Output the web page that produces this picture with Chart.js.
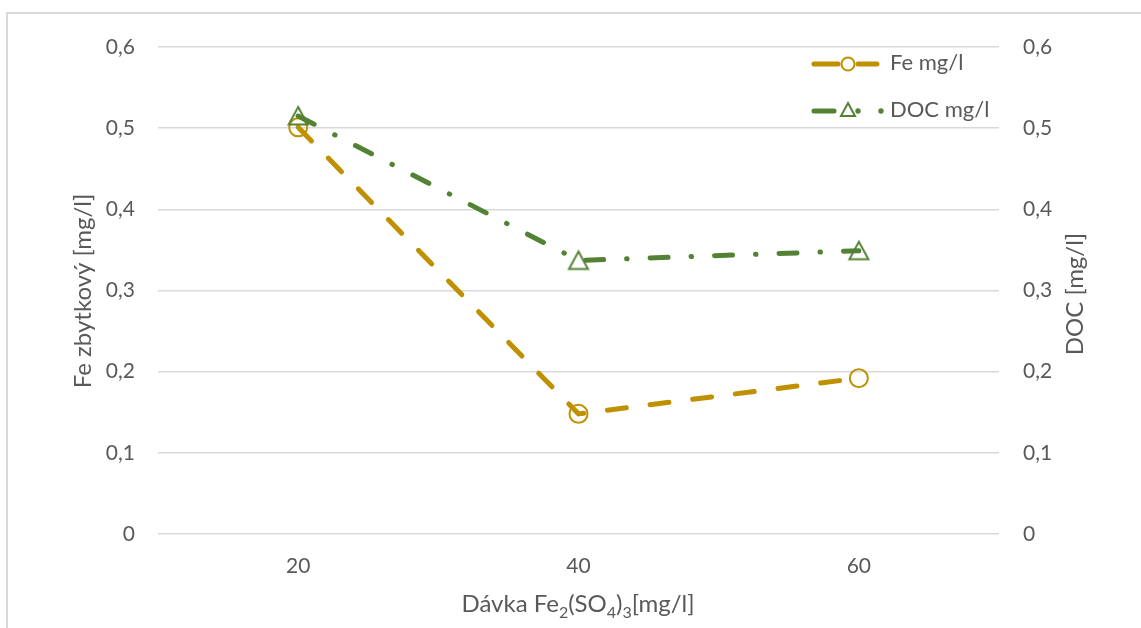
<!DOCTYPE html>
<html lang="cs">
<head>
  <meta charset="UTF-8" />
  <title>Fe a DOC podle dávky</title>
  <script src="https://cdn.jsdelivr.net/npm/chart.js"></script>
  <style>
    body {
      margin: 0;
      background: #ffffff;
      overflow: hidden;
    }
    .ramecek {
      position: absolute;
      left: 6px;
      top: 12px;
      width: 1300px;
      height: 800px;
      border: 2px solid #d9d9d9;
    }
    #graf {
      position: absolute;
      left: 0;
      top: 0;
    }
  </style>
</head>
<body>
  <div class="ramecek"></div>
  <canvas id="graf" width="1141" height="628"></canvas>

  <script>
    // data
    const davky = ['20', '40', '60'];
    const feHodnoty = [0.501, 0.148, 0.192];
    const docHodnoty = [0.515, 0.337, 0.349];
    const osaMin = 0;
    const osaMax = 0.6;
    const osaKrok = 0.1;

    const FE_BARVA = '#bf9000';
    const DOC_BARVA = '#548235';
    const TEXT_BARVA = '#595959';
    const PISMO = 'Lato, "Open Sans", sans-serif';

    const formatCarka = v => (v === 0 ? '0' : v.toFixed(1).replace('.', ','));

    // trojúhelník vystředěný na střed svého obdélníku (jako v Excelu)
    function trojuhelnik(barva) {
      const c = document.createElement('canvas');
      c.width = 24;
      c.height = 24;
      const g = c.getContext('2d');
      g.strokeStyle = barva;
      g.lineWidth = 2;
      g.lineJoin = 'miter';
      g.beginPath();
      g.moveTo(12, 3);
      g.lineTo(21.5, 20.5);
      g.lineTo(2.5, 20.5);
      g.closePath();
      g.stroke();
      return c;
    }

    // popisky os a legenda kreslené ručně (dolní indexy, otočený text vpravo)
    const popisky = {
      id: 'popisky',
      afterDraw(chart) {
        const ctx = chart.ctx;
        ctx.save();
        ctx.fillStyle = TEXT_BARVA;

        // levá osa
        ctx.font = '24px ' + PISMO;
        ctx.textAlign = 'center';
        ctx.textBaseline = 'middle';
        ctx.save();
        ctx.translate(83, 291);
        ctx.rotate(-Math.PI / 2);
        ctx.fillText('Fe zbytkový [mg/l]', 0, 0);
        ctx.restore();

        // pravá osa
        ctx.save();
        ctx.translate(1075, 294);
        ctx.rotate(-Math.PI / 2);
        ctx.fillText('DOC [mg/l]', 0, 0);
        ctx.restore();

        // osa x s dolními indexy
        const casti = [
          ['Dávka Fe', false], ['2', true], ['(SO', false], ['4', true],
          [')', false], ['3', true], ['[mg/l]', false]
        ];
        const velke = '24px ' + PISMO;
        const male = '16px ' + PISMO;
        let sirka = 0;
        casti.forEach(([t, sub]) => {
          ctx.font = sub ? male : velke;
          sirka += ctx.measureText(t).width;
        });
        let x = 578 - sirka / 2;
        ctx.textAlign = 'left';
        ctx.textBaseline = 'alphabetic';
        casti.forEach(([t, sub]) => {
          ctx.font = sub ? male : velke;
          ctx.fillText(t, x, sub ? 618 : 612);
          x += ctx.measureText(t).width;
        });

        // legenda
        ctx.lineCap = 'round';
        ctx.lineWidth = 5;
        ctx.strokeStyle = FE_BARVA;
        ctx.beginPath();
        ctx.moveTo(814, 64); ctx.lineTo(838, 64);
        ctx.moveTo(858, 64); ctx.lineTo(877, 64);
        ctx.stroke();
        ctx.lineWidth = 2;
        ctx.fillStyle = '#ffffff';
        ctx.beginPath();
        ctx.arc(848, 64, 6.5, 0, Math.PI * 2);
        ctx.fill();
        ctx.stroke();

        ctx.strokeStyle = DOC_BARVA;
        ctx.fillStyle = DOC_BARVA;
        ctx.lineWidth = 5;
        ctx.beginPath();
        ctx.moveTo(814, 111); ctx.lineTo(834, 111);
        ctx.stroke();
        ctx.lineWidth = 2;
        ctx.beginPath();
        ctx.moveTo(848, 103); ctx.lineTo(855, 116); ctx.lineTo(841, 116); ctx.closePath();
        ctx.stroke();
        ctx.beginPath();
        ctx.arc(858, 111, 2.7, 0, Math.PI * 2);
        ctx.arc(881, 111, 2.7, 0, Math.PI * 2);
        ctx.fill();

        ctx.fillStyle = TEXT_BARVA;
        ctx.font = '22px ' + PISMO;
        ctx.textBaseline = 'middle';
        ctx.fillText('Fe mg/l', 890, 63);
        ctx.fillText('DOC mg/l', 890, 110);
        ctx.restore();
      }
    };

    new Chart(document.getElementById('graf'), {
      type: 'line',
      data: {
        labels: davky,
        datasets: [
          {
            label: 'Fe mg/l',
            data: feHodnoty,
            yAxisID: 'y',
            order: 1,
            borderColor: FE_BARVA,
            borderWidth: 5,
            borderDash: [19, 24],
            borderCapStyle: 'round',
            pointStyle: 'circle',
            pointRadius: 9,
            pointBorderWidth: 2,
            pointBorderColor: FE_BARVA,
            pointBackgroundColor: 'transparent',
            tension: 0
          },
          {
            label: 'DOC mg/l',
            data: docHodnoty,
            yAxisID: 'y1',
            order: 0,
            borderColor: DOC_BARVA,
            borderWidth: 5,
            borderDash: [18, 23, 0.5, 23],
            borderCapStyle: 'round',
            pointStyle: trojuhelnik(DOC_BARVA),
            pointRadius: 11,
            tension: 0
          }
        ]
      },
      options: {
        responsive: false,
        animation: false,
        layout: { padding: { top: 47, left: 0, right: 0, bottom: 0 } },
        plugins: {
          legend: { display: false },
          tooltip: { enabled: false }
        },
        scales: {
          x: {
            type: 'category',
            offset: true,
            grid: { display: false },
            border: { display: false },
            ticks: { color: TEXT_BARVA, font: { family: PISMO, size: 21 }, padding: 12 },
            afterFit(s) { s.height = 94; }
          },
          y: {
            position: 'left',
            min: osaMin,
            max: osaMax,
            ticks: {
              stepSize: osaKrok,
              color: TEXT_BARVA,
              font: { family: PISMO, size: 21 },
              padding: 23,
              callback: formatCarka
            },
            grid: { color: '#d9d9d9', lineWidth: 1.5, drawTicks: false },
            border: { display: false },
            afterFit(s) { s.width = 158; }
          },
          y1: {
            position: 'right',
            min: osaMin,
            max: osaMax,
            ticks: {
              stepSize: osaKrok,
              color: TEXT_BARVA,
              font: { family: PISMO, size: 21 },
              padding: 24,
              callback: formatCarka
            },
            grid: { display: false, drawTicks: false },
            border: { display: false },
            afterFit(s) { s.width = 142; }
          }
        }
      },
      plugins: [popisky]
    });
  </script>
</body>
</html>
